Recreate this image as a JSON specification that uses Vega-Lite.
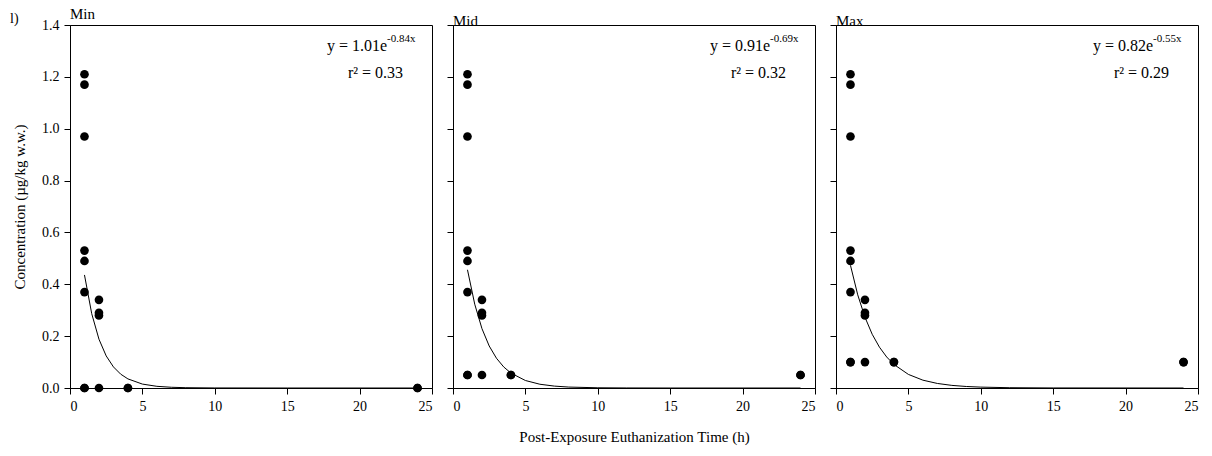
{
  "$schema": "https://vega.github.io/schema/vega-lite/v6.json",
  "padding": {"left": 10, "top": 6, "right": 5, "bottom": 5},
  "background": "white",
  "title": {"text": "l)", "anchor": "start", "frame": "bounds", "dy": 21, "dx": -2, "fontSize": 14},
  "spacing": 21,
  "bounds": "flush",
  "datasets": {
    "pts": [
      {"panel": "Min", "time": 1, "conc": 1.21}, {"panel": "Min", "time": 1, "conc": 1.17}, {"panel": "Min", "time": 1, "conc": 0.97},
      {"panel": "Min", "time": 1, "conc": 0.53}, {"panel": "Min", "time": 1, "conc": 0.49}, {"panel": "Min", "time": 1, "conc": 0.37},
      {"panel": "Min", "time": 1, "conc": 0}, {"panel": "Min", "time": 1, "conc": 0},
      {"panel": "Min", "time": 2, "conc": 0.34}, {"panel": "Min", "time": 2, "conc": 0.29}, {"panel": "Min", "time": 2, "conc": 0.28},
      {"panel": "Min", "time": 2, "conc": 0}, {"panel": "Min", "time": 4, "conc": 0}, {"panel": "Min", "time": 4, "conc": 0},
      {"panel": "Min", "time": 24, "conc": 0}, {"panel": "Min", "time": 24, "conc": 0},
      {"panel": "Mid", "time": 1, "conc": 1.21}, {"panel": "Mid", "time": 1, "conc": 1.17}, {"panel": "Mid", "time": 1, "conc": 0.97},
      {"panel": "Mid", "time": 1, "conc": 0.53}, {"panel": "Mid", "time": 1, "conc": 0.49}, {"panel": "Mid", "time": 1, "conc": 0.37},
      {"panel": "Mid", "time": 1, "conc": 0.05}, {"panel": "Mid", "time": 1, "conc": 0.05},
      {"panel": "Mid", "time": 2, "conc": 0.34}, {"panel": "Mid", "time": 2, "conc": 0.29}, {"panel": "Mid", "time": 2, "conc": 0.28},
      {"panel": "Mid", "time": 2, "conc": 0.05}, {"panel": "Mid", "time": 4, "conc": 0.05}, {"panel": "Mid", "time": 4, "conc": 0.05},
      {"panel": "Mid", "time": 24, "conc": 0.05}, {"panel": "Mid", "time": 24, "conc": 0.05},
      {"panel": "Max", "time": 1, "conc": 1.21}, {"panel": "Max", "time": 1, "conc": 1.17}, {"panel": "Max", "time": 1, "conc": 0.97},
      {"panel": "Max", "time": 1, "conc": 0.53}, {"panel": "Max", "time": 1, "conc": 0.49}, {"panel": "Max", "time": 1, "conc": 0.37},
      {"panel": "Max", "time": 1, "conc": 0.1}, {"panel": "Max", "time": 1, "conc": 0.1},
      {"panel": "Max", "time": 2, "conc": 0.34}, {"panel": "Max", "time": 2, "conc": 0.29}, {"panel": "Max", "time": 2, "conc": 0.28},
      {"panel": "Max", "time": 2, "conc": 0.1}, {"panel": "Max", "time": 4, "conc": 0.1}, {"panel": "Max", "time": 4, "conc": 0.1},
      {"panel": "Max", "time": 24, "conc": 0.1}, {"panel": "Max", "time": 24, "conc": 0.1}
    ],
    "fit": [
      {"panel": "Min", "time": 1, "conc": 0.436}, {"panel": "Min", "time": 1.5, "conc": 0.2865}, {"panel": "Min", "time": 2, "conc": 0.1882},
      {"panel": "Min", "time": 2.5, "conc": 0.1237}, {"panel": "Min", "time": 3, "conc": 0.0813}, {"panel": "Min", "time": 3.5, "conc": 0.0534},
      {"panel": "Min", "time": 4, "conc": 0.0351}, {"panel": "Min", "time": 5, "conc": 0.0151}, {"panel": "Min", "time": 6, "conc": 0.0065},
      {"panel": "Min", "time": 7, "conc": 0.0028}, {"panel": "Min", "time": 8, "conc": 0.0012}, {"panel": "Min", "time": 10, "conc": 0.0002},
      {"panel": "Min", "time": 15, "conc": 0}, {"panel": "Min", "time": 24, "conc": 0},
      {"panel": "Mid", "time": 1, "conc": 0.456}, {"panel": "Mid", "time": 1.5, "conc": 0.3233}, {"panel": "Mid", "time": 2, "conc": 0.2289},
      {"panel": "Mid", "time": 2.5, "conc": 0.1621}, {"panel": "Mid", "time": 3, "conc": 0.1148}, {"panel": "Mid", "time": 3.5, "conc": 0.0813},
      {"panel": "Mid", "time": 4, "conc": 0.0576}, {"panel": "Mid", "time": 5, "conc": 0.0289}, {"panel": "Mid", "time": 6, "conc": 0.0145},
      {"panel": "Mid", "time": 7, "conc": 0.0073}, {"panel": "Mid", "time": 8, "conc": 0.0036}, {"panel": "Mid", "time": 10, "conc": 0.0009},
      {"panel": "Mid", "time": 12, "conc": 0.0002}, {"panel": "Mid", "time": 15, "conc": 0}, {"panel": "Mid", "time": 24, "conc": 0},
      {"panel": "Max", "time": 1, "conc": 0.473}, {"panel": "Max", "time": 1.5, "conc": 0.3593}, {"panel": "Max", "time": 2, "conc": 0.273},
      {"panel": "Max", "time": 2.5, "conc": 0.2073}, {"panel": "Max", "time": 3, "conc": 0.1575}, {"panel": "Max", "time": 3.5, "conc": 0.1196},
      {"panel": "Max", "time": 4, "conc": 0.0909}, {"panel": "Max", "time": 5, "conc": 0.0524}, {"panel": "Max", "time": 6, "conc": 0.0302},
      {"panel": "Max", "time": 7, "conc": 0.0175}, {"panel": "Max", "time": 8, "conc": 0.0101}, {"panel": "Max", "time": 9, "conc": 0.0058},
      {"panel": "Max", "time": 10, "conc": 0.0034}, {"panel": "Max", "time": 12, "conc": 0.0011}, {"panel": "Max", "time": 15, "conc": 0.0002},
      {"panel": "Max", "time": 24, "conc": 0}
    ],
    "eq": [
      {"panel": "Min", "base": "y = 1.01e", "exp": "-0.84x", "r2": "r² = 0.33"},
      {"panel": "Mid", "base": "y = 0.91e", "exp": "-0.69x", "r2": "r² = 0.32"},
      {"panel": "Max", "base": "y = 0.82e", "exp": "-0.55x", "r2": "r² = 0.29"}
    ]
  },
  "hconcat": [
    {
      "title": {"text": "Min", "frame": "group", "dy": 6},
      "width": 362, "height": 363,
      "layer": [
        {"data": {"name": "fit"}, "transform": [{"filter": "datum.panel === 'Min'"}],
         "mark": {"type": "line", "color": "black", "strokeWidth": 1},
         "encoding": {
           "x": {"field": "time", "type": "quantitative", "scale": {"domain": [0, 25], "nice": false}, "axis": {"values": [0, 5, 10, 15, 20, 25], "title": null}},
           "y": {"field": "conc", "type": "quantitative", "scale": {"domain": [0, 1.4], "nice": false}, "axis": {"values": [0, 0.2, 0.4, 0.6, 0.8, 1.0, 1.2, 1.4], "format": ".1f", "title": "Concentration (µg/kg w.w.)"}}
         }},
        {"data": {"name": "pts"}, "transform": [{"filter": "datum.panel === 'Min'"}],
         "mark": {"type": "circle", "color": "black", "opacity": 1, "size": 75},
         "encoding": {"x": {"field": "time", "type": "quantitative"}, "y": {"field": "conc", "type": "quantitative"}}},
        {"data": {"name": "eq"}, "transform": [{"filter": "datum.panel === 'Min'"}],
         "mark": {"type": "text", "align": "right", "baseline": "middle", "fontSize": 16, "color": "black"},
         "encoding": {"x": {"datum": 21.9, "type": "quantitative"}, "y": {"datum": 1.32, "type": "quantitative"}, "text": {"field": "base"}}},
        {"data": {"name": "eq"}, "transform": [{"filter": "datum.panel === 'Min'"}],
         "mark": {"type": "text", "align": "left", "baseline": "middle", "fontSize": 11, "color": "black"},
         "encoding": {"x": {"datum": 21.9, "type": "quantitative"}, "y": {"datum": 1.345, "type": "quantitative"}, "text": {"field": "exp"}}},
        {"data": {"name": "eq"}, "transform": [{"filter": "datum.panel === 'Min'"}],
         "mark": {"type": "text", "align": "center", "baseline": "middle", "fontSize": 16, "color": "black"},
         "encoding": {"x": {"datum": 21.1, "type": "quantitative"}, "y": {"datum": 1.215, "type": "quantitative"}, "text": {"field": "r2"}}}
      ]
    },
    {
      "title": {"text": "Mid", "frame": "group", "dy": 6},
      "width": 362, "height": 363,
      "layer": [
        {"data": {"name": "fit"}, "transform": [{"filter": "datum.panel === 'Mid'"}],
         "mark": {"type": "line", "color": "black", "strokeWidth": 1},
         "encoding": {
           "x": {"field": "time", "type": "quantitative", "scale": {"domain": [0, 25], "nice": false}, "axis": {"values": [0, 5, 10, 15, 20, 25], "title": "Post-Exposure Euthanization Time (h)"}},
           "y": {"field": "conc", "type": "quantitative", "scale": {"domain": [0, 1.4], "nice": false}, "axis": {"values": [0, 0.2, 0.4, 0.6, 0.8, 1.0, 1.2, 1.4], "labels": false, "title": null}}
         }},
        {"data": {"name": "pts"}, "transform": [{"filter": "datum.panel === 'Mid'"}],
         "mark": {"type": "circle", "color": "black", "opacity": 1, "size": 75},
         "encoding": {"x": {"field": "time", "type": "quantitative"}, "y": {"field": "conc", "type": "quantitative"}}},
        {"data": {"name": "eq"}, "transform": [{"filter": "datum.panel === 'Mid'"}],
         "mark": {"type": "text", "align": "right", "baseline": "middle", "fontSize": 16, "color": "black"},
         "encoding": {"x": {"datum": 21.9, "type": "quantitative"}, "y": {"datum": 1.32, "type": "quantitative"}, "text": {"field": "base"}}},
        {"data": {"name": "eq"}, "transform": [{"filter": "datum.panel === 'Mid'"}],
         "mark": {"type": "text", "align": "left", "baseline": "middle", "fontSize": 11, "color": "black"},
         "encoding": {"x": {"datum": 21.9, "type": "quantitative"}, "y": {"datum": 1.345, "type": "quantitative"}, "text": {"field": "exp"}}},
        {"data": {"name": "eq"}, "transform": [{"filter": "datum.panel === 'Mid'"}],
         "mark": {"type": "text", "align": "center", "baseline": "middle", "fontSize": 16, "color": "black"},
         "encoding": {"x": {"datum": 21.1, "type": "quantitative"}, "y": {"datum": 1.215, "type": "quantitative"}, "text": {"field": "r2"}}}
      ]
    },
    {
      "title": {"text": "Max", "frame": "group", "dy": 6},
      "width": 362, "height": 363,
      "layer": [
        {"data": {"name": "fit"}, "transform": [{"filter": "datum.panel === 'Max'"}],
         "mark": {"type": "line", "color": "black", "strokeWidth": 1},
         "encoding": {
           "x": {"field": "time", "type": "quantitative", "scale": {"domain": [0, 25], "nice": false}, "axis": {"values": [0, 5, 10, 15, 20, 25], "title": null}},
           "y": {"field": "conc", "type": "quantitative", "scale": {"domain": [0, 1.4], "nice": false}, "axis": {"values": [0, 0.2, 0.4, 0.6, 0.8, 1.0, 1.2, 1.4], "labels": false, "title": null}}
         }},
        {"data": {"name": "pts"}, "transform": [{"filter": "datum.panel === 'Max'"}],
         "mark": {"type": "circle", "color": "black", "opacity": 1, "size": 75},
         "encoding": {"x": {"field": "time", "type": "quantitative"}, "y": {"field": "conc", "type": "quantitative"}}},
        {"data": {"name": "eq"}, "transform": [{"filter": "datum.panel === 'Max'"}],
         "mark": {"type": "text", "align": "right", "baseline": "middle", "fontSize": 16, "color": "black"},
         "encoding": {"x": {"datum": 21.9, "type": "quantitative"}, "y": {"datum": 1.32, "type": "quantitative"}, "text": {"field": "base"}}},
        {"data": {"name": "eq"}, "transform": [{"filter": "datum.panel === 'Max'"}],
         "mark": {"type": "text", "align": "left", "baseline": "middle", "fontSize": 11, "color": "black"},
         "encoding": {"x": {"datum": 21.9, "type": "quantitative"}, "y": {"datum": 1.345, "type": "quantitative"}, "text": {"field": "exp"}}},
        {"data": {"name": "eq"}, "transform": [{"filter": "datum.panel === 'Max'"}],
         "mark": {"type": "text", "align": "center", "baseline": "middle", "fontSize": 16, "color": "black"},
         "encoding": {"x": {"datum": 21.1, "type": "quantitative"}, "y": {"datum": 1.215, "type": "quantitative"}, "text": {"field": "r2"}}}
      ]
    }
  ],
  "config": {
    "font": "Liberation Serif",
    "view": {"stroke": "black", "strokeWidth": 1},
    "axis": {
      "grid": false, "domainColor": "black", "tickColor": "black", "labelColor": "black", "titleColor": "black",
      "labelFont": "Liberation Serif", "titleFont": "Liberation Serif", "labelFontSize": 14, "titleFontSize": 15,
      "titleFontWeight": "normal", "tickSize": 6, "domainWidth": 1, "tickWidth": 1
    },
    "axisX": {"labelPadding": 5, "titlePadding": 16},
    "axisY": {"labelPadding": 5, "titlePadding": 14},
    "title": {"font": "Liberation Serif", "fontSize": 15, "fontWeight": "normal", "anchor": "start", "offset": 2, "color": "black"}
  }
}
